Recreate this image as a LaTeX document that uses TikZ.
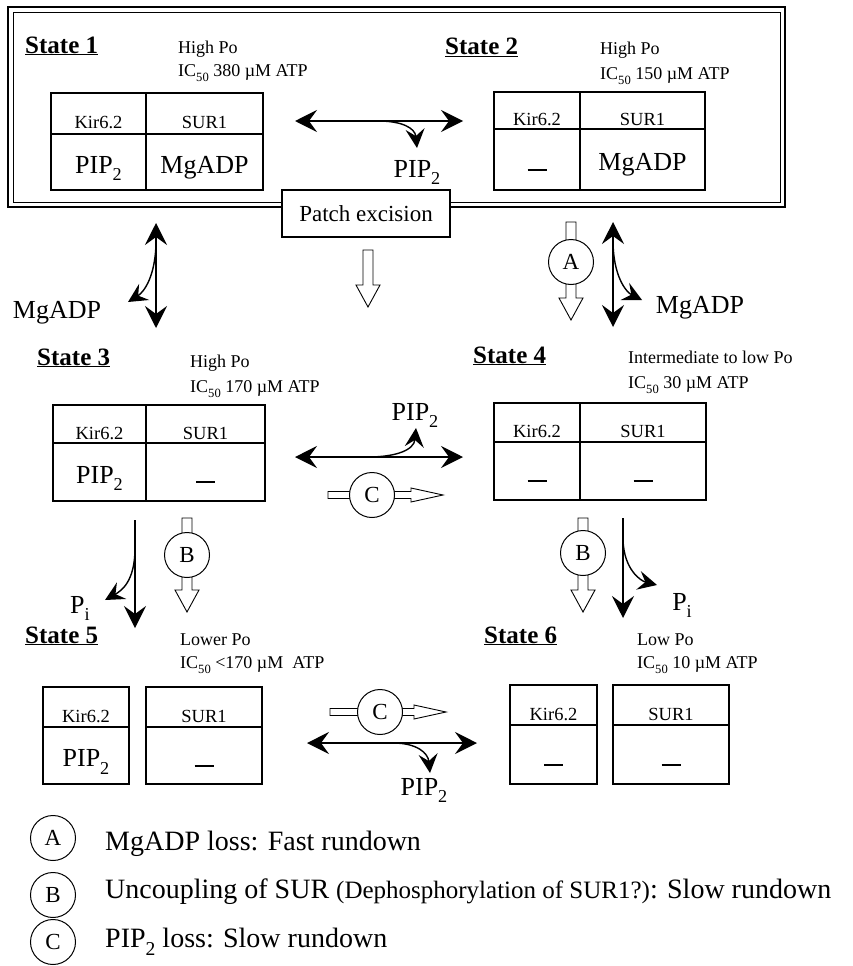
\documentclass[tikz,border=0pt]{standalone}
\usepackage{fontspec}
\usepackage{graphicx}
\setmainfont{Liberation Serif}
\usetikzlibrary{arrows.meta,positioning}
\newcommand\absent{\rule{19pt}{1.6pt}}
\newcommand\lowsub[1]{\raisebox{-0.3em}{\scalebox{0.7}{#1}}}

\begin{document}
\begin{tikzpicture}[x=1pt,y=-1pt,
  cell/.style={draw,line width=1.1pt,inner sep=0pt,outer sep=0pt},
  head/.style={cell,font=\fontsize{18.5}{20}\selectfont,text height=30pt,text depth=0pt},
  body/.style={cell,font=\fontsize{26}{28}\selectfont,text height=22pt,text depth=0pt},
  frame/.style={line width=2.6pt},
  title/.style={anchor=base west,inner sep=0pt,font=\fontsize{25}{28}\selectfont\bfseries},
  info/.style={anchor=base west,inner sep=0pt,font=\fontsize{18}{20}\selectfont},
  lbl/.style={anchor=base,inner sep=0pt,font=\fontsize{26}{28}\selectfont},
  legend/.style={anchor=base west,inner sep=0pt,font=\fontsize{28}{30}\selectfont},
  rate/.style={circle,draw,fill=white,line width=1pt,minimum size=45pt,inner sep=0pt,font=\fontsize{23}{24}\selectfont},
  excise/.style={draw,fill=white,line width=1.2pt,minimum width=168pt,minimum height=47pt,font=\fontsize{23}{26}\selectfont},
  dbl/.style={line width=1.4pt,{Stealth[length=22pt,width=22pt,inset=8pt]}-{Stealth[length=22pt,width=22pt,inset=8pt]}},
  one/.style={line width=1.4pt,-{Stealth[length=22pt,width=22pt,inset=8pt]}},
  branch/.style={line width=1.4pt,-{Stealth[length=19pt,width=19pt,inset=7pt]}},
  pics/sink/.style={code={\draw[line width=0.9pt,fill=white] (-5,0) -- (-5,#1-22) -- (-12,#1-22) -- (0,#1) -- (12,#1-22) -- (5,#1-22) -- (5,0) -- cycle;}},
  pics/flow/.style={code={\draw[line width=0.9pt,fill=white] (0,-3.5) -- (#1-32,-3.5) -- (#1-32,-7) -- (#1,0) -- (#1-32,7) -- (#1-32,3.5) -- (0,3.5) -- cycle;}}]
\useasboundingbox (0,0) rectangle (852,966);

% states 1 and 2 (before excision)
\draw[line width=2.4pt] (8,7) rectangle (785,207);
\draw[line width=0.9pt] (13,12) rectangle (780,202);

\node[title] (t1) at (25,53) {\underline{State 1}};
\node[info] (p1) at (178,53) {High Po};
\node[info] (ic1) at (178,76) {IC\lowsub{50} 380 µM ATP};
\node[head,minimum width=95pt,minimum height=41pt] (k1h) at (98.5,113.5) {Kir6.2};
\node[head,minimum width=117pt,minimum height=41pt,right=0pt of k1h] (s1h) {SUR1};
\node[body,minimum width=95pt,minimum height=56pt,below=0pt of k1h] (k1b) {PIP\lowsub{2}};
\node[body,minimum width=117pt,minimum height=56pt,below=0pt of s1h] (s1b) {MgADP};
\draw[frame] (k1h.north west) rectangle (s1b.south east);

\node[title] (t2) at (445,55) {\underline{State 2}};
\node[info] (p2) at (600,55) {High Po};
\node[info] (ic2) at (600,79) {IC\lowsub{50} 150 µM ATP};
\node[head,minimum width=86pt,minimum height=37pt] (k2h) at (537,110.5) {Kir6.2};
\node[head,minimum width=125pt,minimum height=37pt,right=0pt of k2h] (s2h) {SUR1};
\node[body,minimum width=86pt,minimum height=61pt,below=0pt of k2h] (k2b) {\absent};
\node[body,minimum width=125pt,minimum height=61pt,below=0pt of s2h] (s2b) {MgADP};
\draw[frame] (k2h.north west) rectangle (s2b.south east);

\node[excise] (cut) at (366,213.5) {Patch excision};

% state 3
\node[title] (t3) at (37,365) {\underline{State 3}};
\node[info] (p3) at (190,367) {High Po};
\node[info] (ic3) at (190,392) {IC\lowsub{50} 170 µM ATP};
\node[head,minimum width=93pt,minimum height=38pt] (k3h) at (99.5,424) {Kir6.2};
\node[head,minimum width=119pt,minimum height=38pt,right=0pt of k3h] (s3h) {SUR1};
\node[body,minimum width=93pt,minimum height=58pt,below=0pt of k3h] (k3b) {PIP\lowsub{2}};
\node[body,minimum width=119pt,minimum height=58pt,below=0pt of s3h] (s3b) {\absent};
\draw[frame] (k3h.north west) rectangle (s3b.south east);

% state 4
\node[title] (t4) at (473,363) {\underline{State 4}};
\node[info] (p4) at (628,363) {Intermediate to low Po};
\node[info] (ic4) at (628,388) {IC\lowsub{50} 30 µM ATP};
\node[head,minimum width=86pt,minimum height=39pt] (k4h) at (537,422.5) {Kir6.2};
\node[head,minimum width=126pt,minimum height=39pt,right=0pt of k4h] (s4h) {SUR1};
\node[body,minimum width=86pt,minimum height=58pt,below=0pt of k4h] (k4b) {\absent};
\node[body,minimum width=126pt,minimum height=58pt,below=0pt of s4h] (s4b) {\absent};
\draw[frame] (k4h.north west) rectangle (s4b.south east);

% state 5
\node[title] (t5) at (25,643) {\underline{State 5}};
\node[info] (p5) at (180,645) {Lower Po};
\node[info] (ic5) at (180,668) {IC\lowsub{50} <170 µM~~ATP};
\node[head,minimum width=86pt,minimum height=40pt] (k5h) at (86,707) {Kir6.2};
\node[body,minimum width=86pt,minimum height=57pt,below=0pt of k5h] (k5b) {PIP\lowsub{2}};
\node[head,minimum width=116pt,minimum height=40pt] (s5h) at (204,707) {SUR1};
\node[body,minimum width=116pt,minimum height=57pt,below=0pt of s5h] (s5b) {\absent};
\draw[frame] (k5h.north west) rectangle (k5b.south east);
\draw[frame] (s5h.north west) rectangle (s5b.south east);

% state 6
\node[title] (t6) at (484,643) {\underline{State 6}};
\node[info] (p6) at (637,645) {Low Po};
\node[info] (ic6) at (637,668) {IC\lowsub{50} 10 µM ATP};
\node[head,minimum width=87pt,minimum height=40pt] (k6h) at (553.5,705) {Kir6.2};
\node[body,minimum width=87pt,minimum height=59pt,below=0pt of k6h] (k6b) {\absent};
\node[head,minimum width=116pt,minimum height=40pt] (s6h) at (671,705) {SUR1};
\node[body,minimum width=116pt,minimum height=59pt,below=0pt of s6h] (s6b) {\absent};
\draw[frame] (k6h.north west) rectangle (k6b.south east);
\draw[frame] (s6h.north west) rectangle (s6b.south east);

% reversible steps
\coordinate (e12w) at (295,121); \coordinate (e12e) at (463,121);
\coordinate (b12) at (378,121); \coordinate (h12) at (417,148);
\draw[dbl] (e12w) -- (e12e);
\draw[branch] (b12) .. controls +(24,0) and +(-2,-20) .. (h12);
\node[lbl] (x12) at (417,177) {PIP\lowsub{2}};

\coordinate (e13n) at (156,223); \coordinate (e13s) at (156,328);
\coordinate (b13) at (156,240); \coordinate (h13) at (128,302);
\draw[dbl] (e13n) -- (e13s);
\draw[branch] (b13) .. controls +(0,36) and +(16,-10) .. (h13);
\node[lbl] (x13) at (57,318) {MgADP};

\coordinate (e24n) at (613,222); \coordinate (e24s) at (613,327);
\coordinate (b24) at (613,240); \coordinate (h24) at (642,300);
\draw[dbl] (e24n) -- (e24s);
\draw[branch] (b24) .. controls +(0,36) and +(-16,-8) .. (h24);
\node[lbl] (x24) at (700,313) {MgADP};

\coordinate (e34w) at (295,457); \coordinate (e34e) at (463,457);
\coordinate (b34) at (368,457); \coordinate (h34) at (416,428);
\draw[dbl] (e34w) -- (e34e);
\draw[branch] (b34) .. controls +(28,0) and +(-2,22) .. (h34);
\node[lbl] (x34) at (415,420) {PIP\lowsub{2}};

\coordinate (e56w) at (307,743); \coordinate (e56e) at (477,743);
\coordinate (b56) at (393,743); \coordinate (h56) at (430,773);
\draw[dbl] (e56w) -- (e56e);
\draw[branch] (b56) .. controls +(24,0) and +(-2,-20) .. (h56);
\node[lbl] (x56) at (424,795) {PIP\lowsub{2}};

\coordinate (e35n) at (135,520); \coordinate (e35s) at (135,628);
\coordinate (b35) at (135,548); \coordinate (h35) at (105,600);
\draw[one] (e35n) -- (e35s);
\draw[branch] (b35) .. controls +(0,34) and +(16,-9) .. (h35);
\node[lbl] (x35) at (80,613) {P\lowsub{i}};

\coordinate (e46n) at (623,518); \coordinate (e46s) at (623,618);
\coordinate (b46) at (623,540); \coordinate (h46) at (657,585);
\draw[one] (e46n) -- (e46s);
\draw[branch] (b46) .. controls +(1,30) and +(-16,-4) .. (h46);
\node[lbl] (x46) at (682,610) {P\lowsub{i}};

% rundown steps
\pic at (368,250) {sink=57};
\pic at (571,222) {sink=98};
\node[rate] (ra) at (571,262) {A};
\pic at (187,518) {sink=94};
\node[rate] (rb1) at (187,555) {B};
\pic at (583,518) {sink=94};
\node[rate] (rb2) at (583,553) {B};
\pic at (328,495) {flow=115};
\node[rate] (rc1) at (372,495) {C};
\pic at (330,712) {flow=116};
\node[rate] (rc2) at (380,712) {C};

% key
\node[rate] (la) at (53,838) {A};
\node[legend] (ta) at (105,850) {MgADP loss: Fast rundown};
\node[rate] (lb) at (53,895) {B};
\node[legend] (tb) at (105,898) {Uncoupling of SUR {\fontsize{25}{28}\selectfont(Dephosphorylation of SUR1?)}: Slow rundown};
\node[rate] (lc) at (53,942) {C};
\node[legend] (tc) at (105,947) {PIP\lowsub{2} loss: Slow rundown};
\end{tikzpicture}
\end{document}
